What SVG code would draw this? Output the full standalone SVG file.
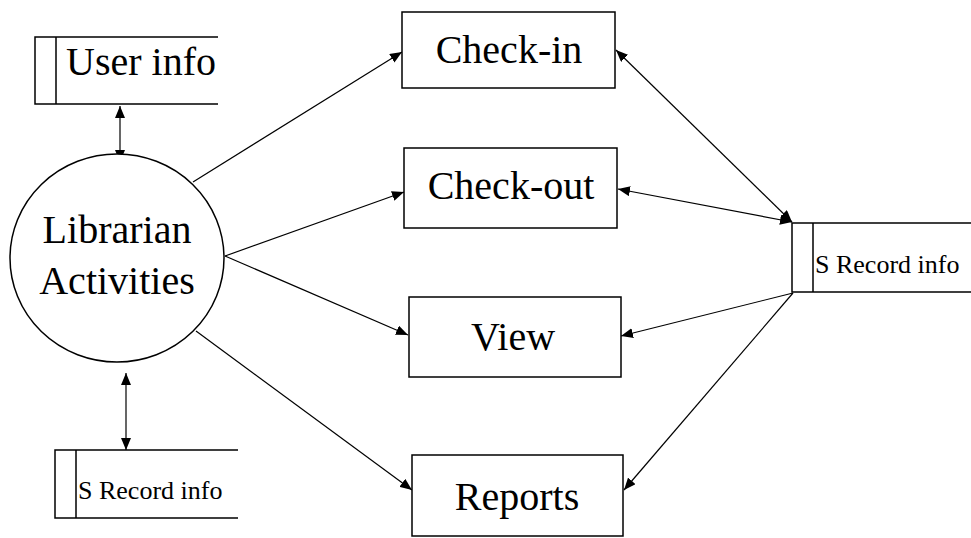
<svg xmlns="http://www.w3.org/2000/svg" width="971" height="538" viewBox="0 0 971 538">
  <defs>
    <marker id="arrow" viewBox="0 0 12 10" refX="12" refY="5" markerWidth="12" markerHeight="10" markerUnits="userSpaceOnUse" orient="auto-start-reverse">
      <path d="M0,0 L12,5 L0,10 Z" fill="#000"/>
    </marker>
  </defs>
  <style>
    .box { fill: #fff; stroke: #000; stroke-width: 1.5; }
    .store { fill: none; stroke: #000; stroke-width: 1.5; }
    text { font-family: 'Liberation Serif', 'Times New Roman', serif; fill: #000; }
    .big { font-size: 40px; }
    .small { font-size: 26px; }
    .flow { stroke: #000; stroke-width: 1.2; fill: none; }
    .one { marker-end: url(#arrow); }
    .two { marker-start: url(#arrow); marker-end: url(#arrow); }
  </style>

  <rect width="971" height="538" fill="#fff"/>

  <g id="connectors">
    <line class="flow two" x1="120" y1="106" x2="120" y2="162"/>
    <line class="flow two" x1="126" y1="373" x2="126" y2="450"/>
    <line class="flow one" x1="193" y1="182" x2="402" y2="52"/>
    <line class="flow one" x1="225" y1="256" x2="404" y2="192"/>
    <line class="flow one" x1="225" y1="256" x2="408" y2="335"/>
    <line class="flow one" x1="196" y1="331" x2="412" y2="490"/>
    <line class="flow two" x1="616" y1="50" x2="792" y2="222"/>
    <line class="flow two" x1="618" y1="189" x2="792" y2="222"/>
    <line class="flow one" x1="793" y1="293" x2="621" y2="336"/>
    <line class="flow one" x1="793" y1="293" x2="624" y2="490"/>
  </g>

  <g id="librarian-activities">
    <ellipse class="box" cx="117" cy="258" rx="107" ry="104"/>
    <text class="big" x="117" y="243" text-anchor="middle">Librarian</text>
    <text class="big" x="117" y="294" text-anchor="middle">Activities</text>
  </g>

  <g id="user-info">
    <path class="store" d="M218,37 H35 V104 H218 M56,37 V104"/>
    <text class="big" x="66" y="75">User info</text>
  </g>

  <g id="record-info-left">
    <path class="store" d="M238,450 H55 V518 H238 M76,450 V518"/>
    <text class="small" x="78" y="499">S Record info</text>
  </g>

  <g id="record-info-right">
    <path class="store" d="M971,223 H792 V292 H971 M813,223 V292"/>
    <text class="small" x="815" y="273">S Record info</text>
  </g>

  <g id="check-in">
    <rect class="box" x="402" y="12" width="213" height="76"/>
    <text class="big" x="509" y="63" text-anchor="middle">Check-in</text>
  </g>

  <g id="check-out">
    <rect class="box" x="404" y="148" width="213" height="80"/>
    <text class="big" x="511" y="199" text-anchor="middle">Check-out</text>
  </g>

  <g id="view">
    <rect class="box" x="409" y="297" width="212" height="80"/>
    <text class="big" x="513" y="350" text-anchor="middle">View</text>
  </g>

  <g id="reports">
    <rect class="box" x="412" y="455" width="211" height="81"/>
    <text class="big" x="517" y="510" text-anchor="middle">Reports</text>
  </g>
</svg>
